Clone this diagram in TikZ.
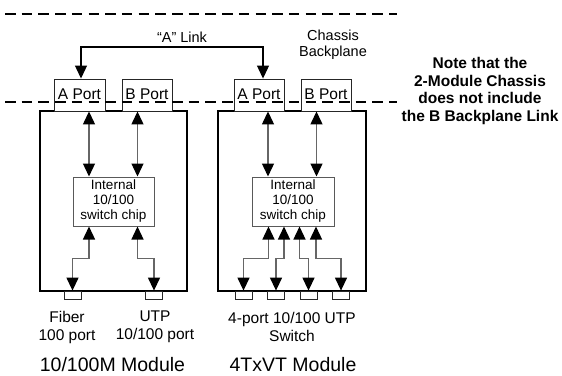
\documentclass[tikz,border=0pt]{standalone}
\usepackage{fontspec}
\setmainfont{Liberation Sans}
\usetikzlibrary{arrows.meta}
\begin{document}
\begin{tikzpicture}[x=1pt,y=-1pt,
  >={Triangle[width=12pt,length=13pt,color=black]},
  portbox/.style={draw=black!85,line width=0.9pt,fill=white,minimum height=32pt,inner sep=0pt,text height=11pt,text depth=3pt,font=\fontsize{15.5}{17}\selectfont},
  module/.style={draw=black,line width=2pt,inner sep=0pt,minimum height=180pt},
  chip/.style={draw=black!65,line width=1pt,fill=white,inner sep=0pt,align=center,minimum height=49pt,font=\fontsize{13.5}{15}\selectfont},
  jack/.style={draw=black!85,line width=0.8pt,minimum width=17pt,minimum height=8pt,inner sep=0pt},
  bus/.style={draw=black!60,line width=1.3pt,<->},
  link/.style={draw=black,line width=1.1pt,<->},
  chassis/.style={draw=black,line width=2.6pt,dash pattern=on 10.5pt off 6.2pt},
  lbl/.style={inner sep=0pt,align=center,font=\fontsize{15.5}{18}\selectfont},
  modlbl/.style={inner sep=0pt,font=\fontsize{19.5}{22}\selectfont},
  note/.style={inner sep=0pt,align=center,font=\bfseries\fontsize{15.5}{17.4}\selectfont}
]
\useasboundingbox (0,0) rectangle (562,375);

% modules
\node[module,minimum width=147pt] (m1) at (113.5,201) {};
\node[module,minimum width=148pt] (m2) at (292,201) {};

% backplane ports
\node[portbox,minimum width=51pt] (pa1) at (79.5,95) {A Port};
\node[portbox,minimum width=50pt] (pb1) at (147,95) {B Port};
\node[portbox,minimum width=50pt] (pa2) at (259,95) {A Port};
\node[portbox,minimum width=50pt] (pb2) at (326,95) {B Port};

% chips
\node[chip,minimum width=81pt] (c1) at (113.5,201.5) {Internal\\10/100\\switch chip};
\node[chip,minimum width=82pt] (c2) at (293,201.5) {Internal\\10/100\\switch chip};

% front jacks
\node[jack] (j1) at (72.5,295) {};
\node[jack] (j2) at (154,295) {};
\node[jack] (k1) at (243.5,295) {};
\node[jack] (k2) at (276,295) {};
\node[jack] (k3) at (308.5,295) {};
\node[jack] (k4) at (341,295) {};

% x positions of connectors
\coordinate (xa1) at (89,0);
\coordinate (xb1) at (137.5,0);
\coordinate (xa2) at (268,0);
\coordinate (xb2) at (316.5,0);
\coordinate (xl1) at (81,0);
\coordinate (xl2) at (263,0);
\coordinate (xc1) at (268.5,0);
\coordinate (xc2) at (284,0);
\coordinate (xc3) at (299.5,0);
\coordinate (xc4) at (316,0);
\coordinate (ya) at (0,258.5);
\coordinate (yl) at (0,47);

% port <-> chip
\draw[bus] (pa1.south -| xa1) -- (c1.north -| xa1);
\draw[bus] (pb1.south -| xb1) -- (c1.north -| xb1);
\draw[bus] (pa2.south -| xa2) -- (c2.north -| xa2);
\draw[bus] (pb2.south -| xb2) -- (c2.north -| xb2);

% chip <-> jacks
\draw[bus] (c1.south -| xa1) -- (ya -| xa1) -| (j1.north);
\draw[bus] (c1.south -| xb1) -- (ya -| xb1) -| (j2.north);
\draw[bus] (c2.south -| xc1) -- (ya -| xc1) -| (k1.north);
\draw[bus] (c2.south -| xc2) -- (ya -| xc2) -| (k2.north);
\draw[bus] (c2.south -| xc3) -- (ya -| xc3) -| (k3.north);
\draw[bus] (c2.south -| xc4) -- (ya -| xc4) -| (k4.north);

% "A" link
\draw[link] (pa1.north -| xl1) -- (yl -| xl1) -| (pa2.north -| xl2);
\node[inner sep=0pt,font=\fontsize{14.5}{16}\selectfont] (alink) at (182,37) {“A” Link};

% chassis lines
\coordinate (d1l) at (5,14);
\coordinate (d1r) at (397,14);
\coordinate (d2l) at (5,102);
\coordinate (d2r) at (397,102);
\draw[chassis] (d1l) -- (d1r);
\draw[chassis] (d2l) -- (d2r);

% labels
\node[inner sep=0pt,align=center,font=\fontsize{14.5}{16}\selectfont] (cb) at (333,45) {Chassis\\Backplane};
\node[note] (nt) at (480,91) {Note that the\\2-Module Chassis\\does not include\\the B Backplane Link};
\node[lbl] (lf) at (67,327) {Fiber\\100 port};
\node[lbl] (lu) at (155,327) {UTP\\10/100 port};
\node[lbl] (ls) at (292,327) {4-port 10/100 UTP\\Switch};
\node[modlbl] (ml1) at (112.5,365) {10/100M Module};
\node[modlbl] (ml2) at (293,365) {4TxVT Module};
\end{tikzpicture}
\end{document}
